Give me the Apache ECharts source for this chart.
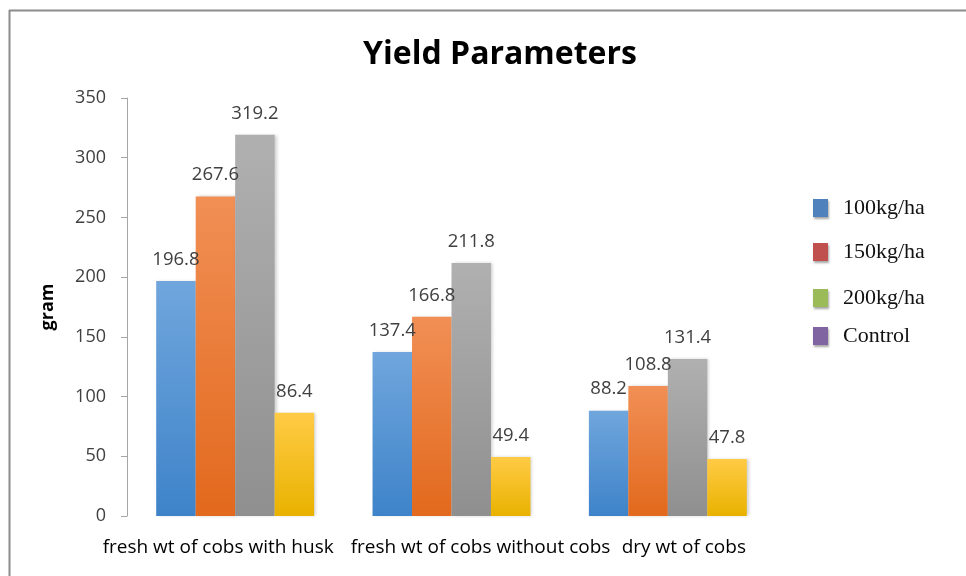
<!DOCTYPE html>
<html>
<head>
<meta charset="utf-8">
<title>Yield Parameters</title>
<script src="https://cdn.jsdelivr.net/npm/echarts@6/dist/echarts.min.js"></script>
<style>
  html, body { margin: 0; padding: 0; background: #fff; }
  #chart { width: 966px; height: 576px; }
</style>
</head>
<body>
<div id="chart"></div>
<script>
// Chart data
const categories = ['fresh wt of cobs with husk', 'fresh wt of cobs without cobs', 'dry wt of cobs'];
const seriesNames = ['100kg/ha', '150kg/ha', '200kg/ha', 'Control'];
const values100 = [196.8, 137.4, 88.2];
const values150 = [267.6, 166.8, 108.8];
const values200 = [319.2, 211.8, 131.4];
const valuesControl = [86.4, 49.4, 47.8];
const yTicks = [0, 50, 100, 150, 200, 250, 300, 350];

// bar gradients (top -> bottom) and legend swatch colours (they differ in the original)
const BAR_COLORS = [
  ['#70A6DD', '#3E83C9'],
  ['#F18F55', '#E2691D'],
  ['#B0B0B0', '#8F8F8F'],
  ['#FFCB45', '#E9B200'],
];
const LEGEND_COLORS = ['#4F81BD', '#C0504D', '#9BBB59', '#8064A2'];
const LEGEND_TOPS = [192, 236, 282, 320];
// the original's category labels are not centred under their groups
const LABEL_SHIFT = [-17, 29, 16];

const FONT = '"Open Sans", "Liberation Sans", sans-serif';

const grad = (c) => new echarts.graphic.LinearGradient(0, 0, 0, 1, [
  { offset: 0, color: c[0] },
  { offset: 1, color: c[1] },
]);

const allValues = [values100, values150, values200, valuesControl];

const series = seriesNames.map((name, i) => ({
  name,
  type: 'bar',
  data: allValues[i],
  barGap: '0%',
  barCategoryGap: '27%',
  itemStyle: {
    color: grad(BAR_COLORS[i]),
    shadowColor: 'rgba(0,0,0,0.18)',
    shadowBlur: 3,
    shadowOffsetX: 2,
    shadowOffsetY: 0,
  },
  label: {
    show: true,
    position: 'top',
    distance: 12,
    color: '#404040',
    fontFamily: FONT,
    fontSize: 18.5,
    formatter: (p) => p.value.toFixed(1),
  },
}));

// one legend block per entry so the uneven spacing matches
const legends = seriesNames.map((name, i) => ({
  left: 808,
  top: LEGEND_TOPS[i],
  orient: 'vertical',
  itemWidth: 15,
  itemHeight: 18,
  selectedMode: false,
  data: [{
    name,
    icon: 'rect',
    itemStyle: {
      color: LEGEND_COLORS[i],
      shadowColor: 'rgba(0,0,0,0.35)',
      shadowBlur: 2,
      shadowOffsetX: 1,
      shadowOffsetY: 2,
    },
  }],
  textStyle: {
    fontFamily: '"Liberation Serif", "DejaVu Serif", serif',
    fontSize: 22,
    color: '#111',
    padding: [0, 0, 0, 10],
  },
}));

const chart = echarts.init(document.getElementById('chart'), null, { renderer: 'canvas' });

chart.setOption({
  backgroundColor: '#FFFFFF',
  animation: false,
  title: {
    text: 'Yield Parameters',
    left: 495,
    textAlign: 'center',
    top: 34,
    textStyle: {
      fontFamily: FONT,
      fontSize: 32,
      fontWeight: 'bold',
      color: '#000',
    },
  },
  legend: legends,
  grid: { left: 127, right: 190, top: 98, bottom: 60, containLabel: false },
  xAxis: {
    type: 'category',
    data: categories.map((c, i) => ({
      value: c,
      textStyle: { padding: LABEL_SHIFT[i] < 0 ? [0, -2 * LABEL_SHIFT[i], 0, 0] : [0, 0, 0, 2 * LABEL_SHIFT[i]] },
    })),
    axisLine: { show: false },
    axisTick: { show: false },
    axisLabel: {
      interval: 0,
      margin: 22,
      color: '#000',
      fontFamily: FONT,
      fontSize: 19,
    },
  },
  yAxis: {
    type: 'value',
    min: yTicks[0],
    max: yTicks[yTicks.length - 1],
    interval: 50,
    name: 'gram',
    nameLocation: 'middle',
    nameGap: 70,
    nameTextStyle: {
      fontFamily: FONT,
      fontSize: 18,
      fontWeight: 'bold',
      color: '#000',
    },
    axisLine: { show: true, lineStyle: { color: '#A6A6A6', width: 1 } },
    axisTick: { show: true, length: 6, lineStyle: { color: '#A6A6A6' } },
    axisLabel: {
      margin: 21,
      color: '#404040',
      fontFamily: FONT,
      fontSize: 18,
    },
    splitLine: { show: false },
  },
  graphic: [
    { type: 'line', shape: { x1: 9, y1: 10.5, x2: 966, y2: 10.5 }, style: { stroke: '#8C8C8C', lineWidth: 2 } },
    { type: 'line', shape: { x1: 9.5, y1: 10, x2: 9.5, y2: 576 }, style: { stroke: '#8C8C8C', lineWidth: 2 } },
  ],
  series,
});

window.addEventListener('resize', () => chart.resize());
</script>
</body>
</html>
